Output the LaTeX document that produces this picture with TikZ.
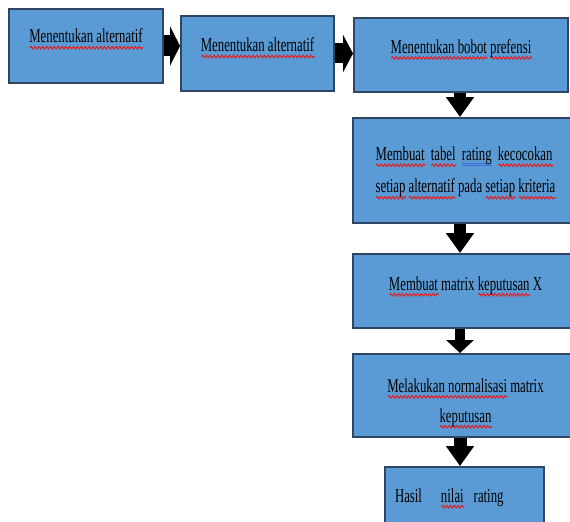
\documentclass[tikz,border=0pt]{standalone}
\usepackage{fontspec}
\newfontfamily\boxfont[FakeStretch=0.65]{Liberation Serif}
\usetikzlibrary{arrows.meta,decorations.pathmorphing}
\definecolor{boxblue}{RGB}{91,155,213}
\definecolor{boxline}{RGB}{47,69,98}
\definecolor{spellred}{RGB}{230,30,30}
\definecolor{gramblue}{RGB}{60,110,220}
\newsavebox\sqbox
\newlength\sqlen
\newcommand\sq[1]{\leavevmode\sbox\sqbox{#1}\setlength\sqlen{\wd\sqbox}%
  \rlap{\tikz[baseline=0pt]\draw[spellred, line width=0.6pt, decorate,
    decoration={snake, amplitude=0.7pt, segment length=2.2pt}] (0pt,-2.7pt) -- (\sqlen,-2.7pt);}%
  \usebox\sqbox}
\newcommand\gram[1]{\leavevmode\sbox\sqbox{#1}\setlength\sqlen{\wd\sqbox}%
  \rlap{\textcolor{gramblue}{\rule[-2.2pt]{\sqlen}{0.6pt}}}%
  \rlap{\textcolor{gramblue}{\rule[-3.4pt]{\sqlen}{0.6pt}}}%
  \usebox\sqbox}

\begin{document}
\begin{tikzpicture}[x=0.02cm, y=0.02cm,
    box/.style={draw=boxline, line width=1.1pt, fill=boxblue, align=center,
      font=\boxfont\fontsize{11.2}{17.5}\selectfont, text height=0.28cm},
    down/.style={line width=0.24cm, -{Triangle[length=0.4cm, width=0.54cm]}}]
  \clip (0,0) rectangle (570,521);

  % top row
  \node[box, minimum width=3.08cm, minimum height=1.48cm, text depth=0.4cm] (b1) at (86,475) {\sq{Menentukan alternatif}};
  \node[box, minimum width=3.06cm, minimum height=1.5cm, text depth=0.35cm] (b2) at (257.5,467.5) {\sq{Menentukan alternatif}};
  \node[box, minimum width=4.28cm, minimum height=1.48cm, text depth=0.35cm] (b3) at (461,466) {\sq{Menentukan bobot} \sq{prefensi}};

  % right column
  \node[box, minimum width=4.5cm, minimum height=2.1cm, align=left, text height=1cm, text depth=0.1cm,
    font=\boxfont\fontsize{11.2}{18.5}\selectfont] (b4) at (465.5,350.5)
    {\sq{Membuat}\hspace{3.5pt}\sq{tabel}\hspace{3.5pt}\gram{rating}\hspace{3.5pt}\sq{kecocokan}\\
     \sq{setiap} \sq{alternatif} pada \sq{setiap} \sq{kriteria}};
  \node[box, minimum width=4.5cm, minimum height=1.48cm, text depth=0.32cm] (b5) at (465.5,230) {\sq{Membuat} matrix \sq{keputusan} X};
  \node[box, minimum width=4.5cm, minimum height=1.66cm, text height=1.16cm, text depth=0.1cm,
    font=\boxfont\fontsize{11.2}{17}\selectfont] (b6) at (465.5,125.5) {\sq{Melakukan normalisasi} matrix\\\sq{keputusan}};
  \node[box, minimum width=3.18cm, minimum height=1.46cm, text width=2.78cm, inner xsep=0.2cm, align=left,
    text depth=0.34cm] (b7) at (464.5,17.5) {Hasil\hspace{10.8pt}\sq{nilai}\hspace{5.7pt}rating};

  % block arrows
  \coordinate (axis) at (460,0);
  \draw[line width=0.42cm, -{Triangle[length=0.2cm, width=0.78cm]}] (b1.east) -- (b1.east -| b2.west);
  \draw[line width=0.4cm, -{Triangle[length=0.2cm, width=0.74cm]}] (b2.east) -- (b2.east -| b3.west);
  \draw[down] (b3.south -| axis) -- (b4.north -| axis);
  \draw[down] (b4.south -| axis) -- (b5.north -| axis);
  \draw[down, line width=0.2cm, -{Triangle[length=0.26cm, width=0.54cm]}] (b5.south -| axis) -- (b6.north -| axis);
  \draw[down, line width=0.26cm] (b6.south -| axis) -- (b7.north -| axis);
\end{tikzpicture}
\end{document}
